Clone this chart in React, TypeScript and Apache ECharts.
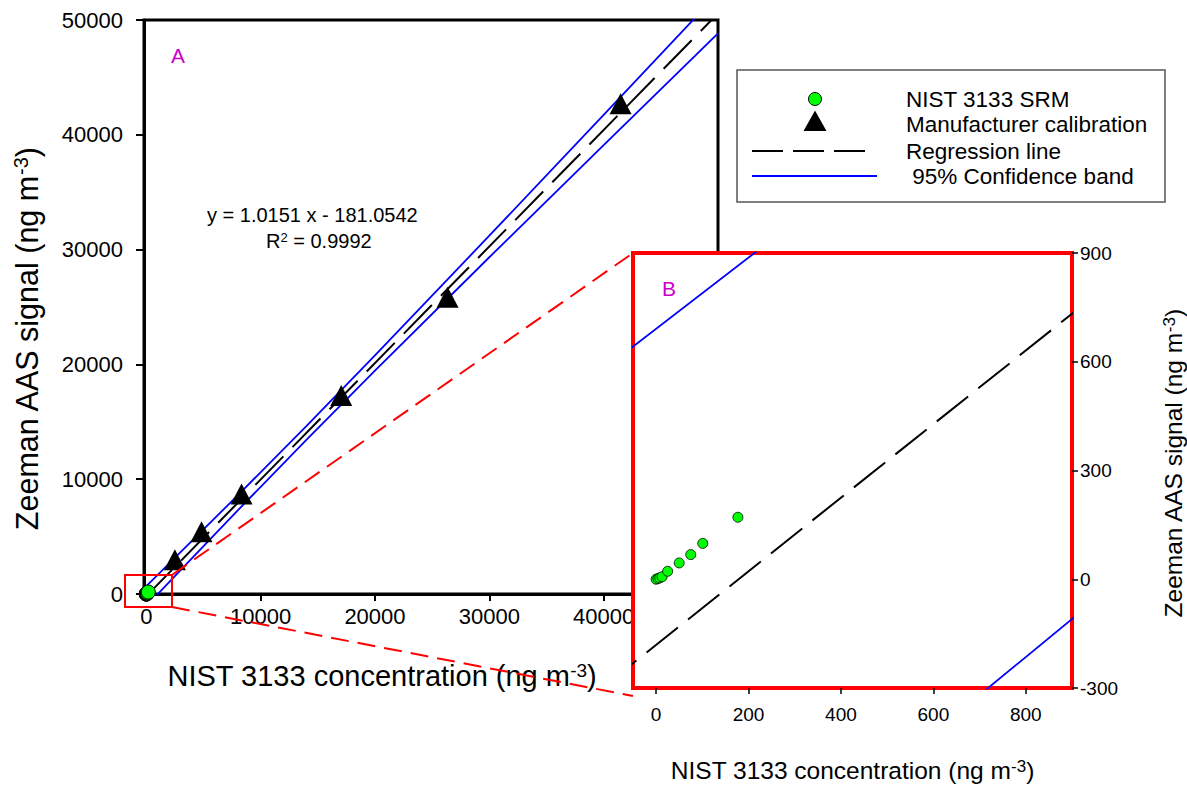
import React, { useEffect, useRef } from 'react';
import * as echarts from 'echarts';

// ---- data ----
// NIST 3133 SRM points (ng m-3): concentration / Zeeman AAS signal
const srmX = [0, 4, 8, 13, 25, 50, 75, 101, 177];
const srmY = [0, 2, 4, 7, 22, 45, 68, 99, 171];
// Manufacturer calibration points
const calX = [2500, 4830, 8330, 17050, 26350, 41480];
const calY = [2990, 5430, 8710, 17290, 25850, 42700];
// Regression line y = 1.0151 x - 181.0542 (end points)
const regX = [-200, 50000];
const regY = [-384.1, 50574.4];
// 95 % confidence band, read at several concentrations
const bandX = [-200, 1000, 3000, 8000, 14000, 20000, 30000, 40000, 50000];
const bandUpper = [494, 1674, 3643, 8598, 14630, 20779, 31211, 41742, 52308];
const bandLower = [-1262, -5, 2085, 7282, 13430, 19463, 29333, 39104, 48840];
// tick labels
const mainXTicks = [0, 10000, 20000, 30000, 40000];
const insetXTicks = [0, 200, 400, 600, 800];
const legendNames = ['NIST 3133 SRM', 'Manufacturer calibration', 'Regression line', ' 95% Confidence band'];

const FONT = '"Liberation Sans", Arial, Helvetica, sans-serif';
const BLUE = '#0000ff';
const GREEN = '#00ff00';
const RED = '#ff0000';
const MAGENTA = '#cc00cc';

const pair = (xs: number[], ys: number[]) => xs.map((x, i) => [x, ys[i]]);

export default function App() {
  const ref = useRef<HTMLDivElement>(null);
  useEffect(() => {
    const chart = echarts.init(ref.current as HTMLDivElement, null, { renderer: 'svg' });
    const sup = (size: number, lh: number) => ({
      sup: { fontSize: size, verticalAlign: 'top', lineHeight: lh, fontFamily: FONT, color: '#000' },
    });
    const bandStyle = { color: BLUE, width: 1.8 };
    const regStyle = { color: '#000', width: 2, type: [40, 13] };
    chart.setOption({
      animation: false,
      textStyle: { fontFamily: FONT },
      grid: [
        { left: 144, top: 20, width: 574, height: 574, show: true, borderColor: '#000', borderWidth: 3, backgroundColor: 'transparent', z: 0 },
        { left: 633, top: 253, width: 445, height: 444, show: true, borderColor: RED, borderWidth: 4, backgroundColor: '#fff', z: 4 },
      ],
      xAxis: [
        {
          type: 'value', gridIndex: 0, min: -200, max: 50000,
          splitLine: { show: false },
          axisLine: { show: true, onZero: false, lineStyle: { color: '#000', width: 3 } },
          axisTick: { show: true, length: 7, customValues: mainXTicks, lineStyle: { color: '#000', width: 2 } },
          axisLabel: { customValues: mainXTicks, fontSize: 22, color: '#000', margin: 11, formatter: (v: number) => String(v) },
          name: 'NIST 3133 concentration (ng m{sup|-3})',
          nameLocation: 'middle', nameGap: 67,
          nameTextStyle: { fontSize: 29, color: '#000', padding: [0, 98, 0, 0], rich: sup(19, 12) },
        },
        {
          type: 'value', gridIndex: 1, min: -50, max: 900, z: 4,
          splitLine: { show: false },
          axisLine: { show: false, onZero: false },
          axisTick: { show: true, length: 6, customValues: insetXTicks, lineStyle: { color: '#000', width: 1.5 } },
          axisLabel: { customValues: insetXTicks, fontSize: 19, color: '#000', margin: 17, formatter: (v: number) => String(v) },
          name: 'NIST 3133 concentration (ng m{sup|-3})',
          nameLocation: 'middle', nameGap: 70,
          nameTextStyle: { fontSize: 24.5, color: '#000', rich: sup(17, 10) },
        },
      ],
      yAxis: [
        {
          type: 'value', gridIndex: 0, min: 0, max: 50000, interval: 10000,
          splitLine: { show: false },
          axisLine: { show: true, onZero: false, lineStyle: { color: '#000', width: 3 } },
          axisTick: { show: true, length: 8, lineStyle: { color: '#000', width: 2 } },
          axisLabel: { fontSize: 22, color: '#000', margin: 21, formatter: (v: number) => String(v) },
          name: 'Zeeman AAS signal (ng m{sup|-3})',
          nameLocation: 'middle', nameGap: 102,
          nameTextStyle: { fontSize: 30.5, color: '#000', padding: [0, 64, 0, 0], rich: sup(20, 12) },
        },
        {
          type: 'value', gridIndex: 1, position: 'right', min: -300, max: 900, interval: 300, z: 4,
          splitLine: { show: false },
          axisLine: { show: false, onZero: false },
          axisTick: { show: true, length: 6, lineStyle: { color: '#000', width: 1.5 } },
          axisLabel: { fontSize: 19, color: '#000', margin: 8, formatter: (v: number) => String(v) },
          name: 'Zeeman AAS signal (ng m{sup|-3})',
          nameLocation: 'middle', nameGap: 89,
          nameTextStyle: { fontSize: 24.5, color: '#000', padding: [0, 0, 0, 14], rich: sup(17, 10) },
        },
      ],
      series: [
        // main panel A
        { type: 'line', name: legendNames[3], xAxisIndex: 0, yAxisIndex: 0, data: pair(bandX, bandUpper), showSymbol: false, symbol: 'none', lineStyle: bandStyle, z: 2 },
        { type: 'line', name: legendNames[3], xAxisIndex: 0, yAxisIndex: 0, data: pair(bandX, bandLower), showSymbol: false, symbol: 'none', lineStyle: bandStyle, z: 2 },
        { type: 'line', name: legendNames[2], xAxisIndex: 0, yAxisIndex: 0, data: pair(regX, regY), showSymbol: false, symbol: 'none', lineStyle: regStyle, z: 2 },
        { type: 'scatter', name: legendNames[1], xAxisIndex: 0, yAxisIndex: 0, data: pair(calX, calY), symbol: 'triangle', symbolSize: [22, 21], itemStyle: { color: '#000', opacity: 1 }, clip: false, z: 3 },
        { type: 'scatter', name: legendNames[0], xAxisIndex: 0, yAxisIndex: 0, data: pair(srmX, srmY), symbol: 'circle', symbolSize: 14, itemStyle: { color: GREEN, borderColor: '#000', borderWidth: 1, opacity: 1 }, clip: false, z: 3 },
        // inset panel B
        { type: 'line', name: legendNames[3], xAxisIndex: 1, yAxisIndex: 1, data: pair(bandX, bandUpper), showSymbol: false, symbol: 'none', lineStyle: bandStyle, clip: true, z: 5 },
        { type: 'line', name: legendNames[3], xAxisIndex: 1, yAxisIndex: 1, data: pair(bandX, bandLower), showSymbol: false, symbol: 'none', lineStyle: bandStyle, clip: true, z: 5 },
        { type: 'line', name: legendNames[2], xAxisIndex: 1, yAxisIndex: 1, data: pair(regX, regY), showSymbol: false, symbol: 'none', lineStyle: regStyle, clip: true, z: 5 },
        { type: 'scatter', name: legendNames[0], xAxisIndex: 1, yAxisIndex: 1, data: pair(srmX, srmY), symbol: 'circle', symbolSize: 10, itemStyle: { color: GREEN, borderColor: '#000', borderWidth: 0.8, opacity: 1 }, z: 6 },
      ],
      graphic: [
        // zoom box and connectors
        { type: 'rect', z: 7, shape: { x: 125, y: 575, width: 47, height: 32 }, style: { fill: 'none', stroke: RED, lineWidth: 2 } },
        { type: 'line', z: 7, shape: { x1: 172, y1: 575, x2: 633, y2: 253 }, style: { stroke: RED, lineWidth: 2, lineDash: [18, 9] } },
        { type: 'line', z: 7, shape: { x1: 172, y1: 607, x2: 633, y2: 696 }, style: { stroke: RED, lineWidth: 2, lineDash: [18, 9] } },
        // panel labels and equation
        { type: 'text', z: 7, x: 178, y: 55, style: { text: 'A', fill: MAGENTA, font: `21px ${FONT}`, textAlign: 'center', textVerticalAlign: 'middle' } },
        { type: 'text', z: 7, x: 669, y: 288, style: { text: 'B', fill: MAGENTA, font: `21px ${FONT}`, textAlign: 'center', textVerticalAlign: 'middle' } },
        { type: 'text', z: 7, x: 207, y: 215, style: { text: 'y = 1.0151 x - 181.0542', fill: '#000', font: `20px ${FONT}`, textAlign: 'left', textVerticalAlign: 'middle' } },
        {
          type: 'text', z: 7, x: 266, y: 241,
          style: {
            text: 'R{s|2} = 0.9992', fill: '#000', font: `20px ${FONT}`, textAlign: 'left', textVerticalAlign: 'middle',
            rich: { s: { fontSize: 13, verticalAlign: 'top', lineHeight: 9, fontFamily: FONT, fill: '#000' } },
          },
        },
        // legend
        { type: 'rect', z: 7, shape: { x: 737, y: 70, width: 428, height: 132 }, style: { fill: '#fff', stroke: '#555', lineWidth: 1.5 } },
        { type: 'circle', z: 8, shape: { cx: 815, cy: 99, r: 6.5 }, style: { fill: GREEN, stroke: '#000', lineWidth: 1 } },
        { type: 'polygon', z: 8, shape: { points: [[815, 110.5], [826.5, 131], [803.5, 131]] }, style: { fill: '#000' } },
        { type: 'line', z: 8, shape: { x1: 752, y1: 151, x2: 866, y2: 151 }, style: { stroke: '#000', lineWidth: 2, lineDash: [31, 10] } },
        { type: 'line', z: 8, shape: { x1: 752, y1: 176, x2: 877, y2: 176 }, style: { stroke: BLUE, lineWidth: 2 } },
        ...legendNames.map((t, i) => ({
          type: 'text', z: 8, x: 906, y: [99, 124, 151, 176][i],
          style: { text: t, fill: '#000', font: `22.5px ${FONT}`, textAlign: 'left', textVerticalAlign: 'middle' },
        })),
      ],
    });
    return () => chart.dispose();
  }, []);
  return <div ref={ref} style={{ position: 'absolute', left: 0, top: 0, width: 1187, height: 788, background: '#fff' }} />;
}
